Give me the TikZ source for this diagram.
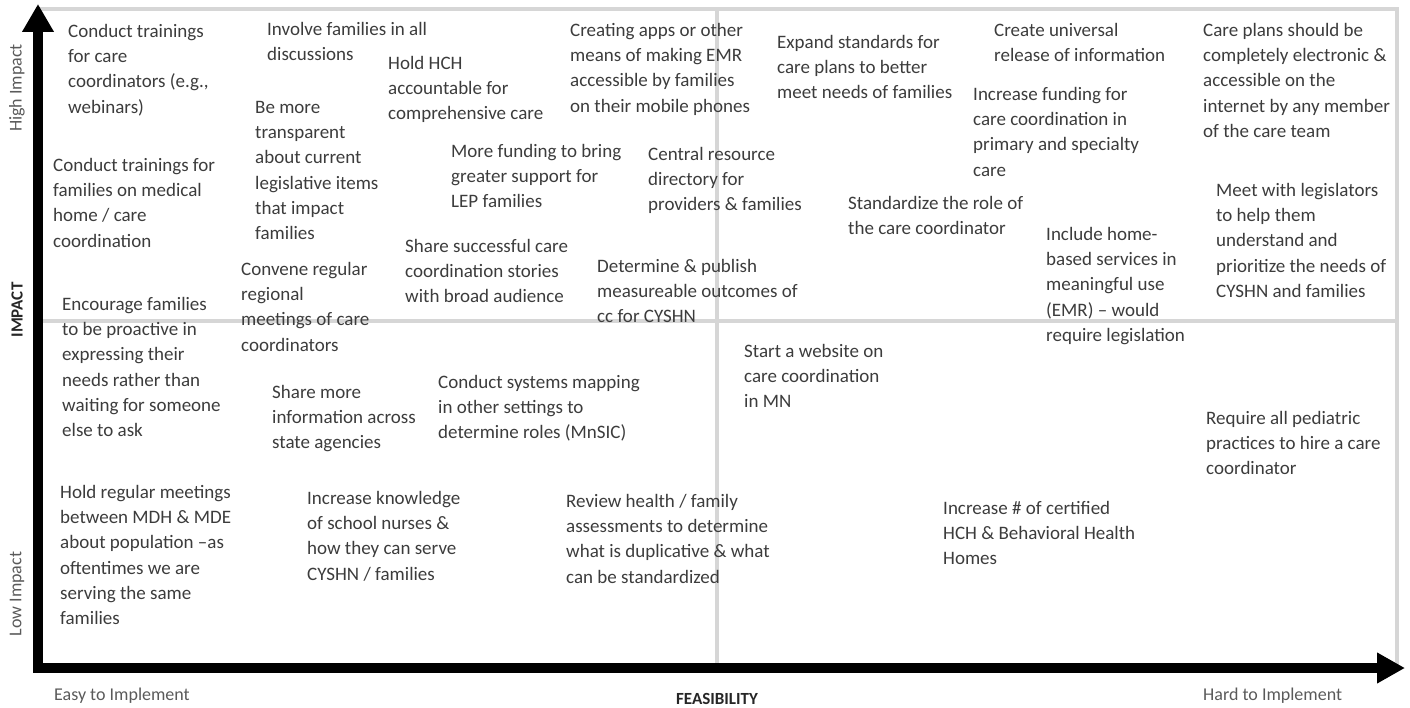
\documentclass[tikz,border=0pt]{standalone}
\usepackage{fontspec}
\setmainfont{Carlito}
\usetikzlibrary{arrows.meta}
\definecolor{txt}{HTML}{3C3C3C}
\definecolor{lbl}{HTML}{5A5A5A}
\definecolor{gridc}{HTML}{D6D6D6}
\newcommand\bodyfont{\fontsize{19}{25.3}\selectfont}
\newcommand\ft{\rule{0pt}{15pt}}
\tikzset{
  idea/.style={anchor=north west, inner sep=0pt, align=left, font=\bodyfont, text=txt},
  sidelbl/.style={rotate=90, inner sep=0pt, font=\fontsize{18}{20}\selectfont, text=lbl},
  botlbl/.style={anchor=base west, inner sep=0pt, font=\fontsize{18}{20}\selectfont, text=lbl},
  boldlbl/.style={inner sep=0pt, font=\fontsize{17}{20}\selectfont\bfseries, text=black!85},
  quad/.style={draw=gridc, line width=3.5pt},
  axis/.style={line width=10pt, line join=miter, black, {Triangle[length=28pt,width=30pt]}-{Triangle[length=28pt,width=29pt]}}
}
\begin{document}
\begin{tikzpicture}[x=1pt,y=-1pt]
\useasboundingbox (0,0) rectangle (1410,708);
% quadrant grid
\draw[quad] (40,9) rectangle (1397,668);
\draw[quad] (717,9) -- (717,668);
\draw[quad] (40,321) -- (1397,321);
% axes
\coordinate (ytip) at (38,4);
\coordinate (corner) at (38,668);
\coordinate (xtip) at (1405,668);
\draw[axis] (ytip) -- (corner) -- (xtip);
% axis labels
\node[sidelbl] (hi) at (17,88) {High Impact};
\node[boldlbl, rotate=90] (imp) at (17,310) {IMPACT};
\node[sidelbl] (lo) at (17,594) {Low Impact};
\node[botlbl] (easy) at (54,700) {Easy to Implement};
\node[boldlbl, anchor=base] (feas) at (717,704) {FEASIBILITY};
\node[botlbl] (hard) at (1203,700) {Hard to Implement};
% ideas
\node[idea] (n1) at (68,22) {\ft Conduct trainings\\for care\\coordinators (e.g.,\\webinars)};
\node[idea] (n2) at (267,20) {\ft Involve families in all\\discussions};
\node[idea] (n3) at (388,54) {\ft Hold HCH\\accountable for\\comprehensive care};
\node[idea] (n4) at (570,21) {\ft Creating apps or other\\means of making EMR\\accessible by families\\on their mobile phones};
\node[idea] (n5) at (777,33) {\ft Expand standards for\\care plans to better\\meet needs of families};
\node[idea] (n6) at (994,21) {\ft Create universal\\release of information};
\node[idea] (n7) at (1203,21) {\ft Care plans should be\\completely electronic \&\\accessible on the\\internet by any member\\of the care team};
\node[idea] (n8) at (255,98) {\ft Be more\\transparent\\about current\\legislative items\\that impact\\families};
\node[idea] (n9) at (53,156) {\ft Conduct trainings for\\families on medical\\home / care\\coordination};
\node[idea] (n10) at (451,142) {\ft More funding to bring\\greater support for\\LEP families};
\node[idea] (n11) at (648,145) {\ft Central resource\\directory for\\providers \& families};
\node[idea] (n12) at (973,85) {\ft Increase funding for\\care coordination in\\primary and specialty\\care};
\node[idea] (n13) at (848,194) {\ft Standardize the role of\\the care coordinator};
\node[idea] (n14) at (1216,181) {\ft Meet with legislators\\to help them\\understand and\\prioritize the needs of\\CYSHN and families};
\node[idea] (n15) at (1046,225) {\ft Include home-\\based services in\\meaningful use\\(EMR) – would\\require legislation};
\node[idea] (n16) at (405,237) {\ft Share successful care\\coordination stories\\with broad audience};
\node[idea] (n17) at (241,260) {\ft Convene regular\\regional\\meetings of care\\coordinators};
\node[idea] (n18) at (597,257) {\ft Determine \& publish\\measureable outcomes of\\cc for CYSHN};
\node[idea] (n19) at (62,295) {\ft Encourage families\\to be proactive in\\expressing their\\needs rather than\\waiting for someone\\else to ask};
\node[idea] (n20) at (744,342) {\ft Start a website on\\care coordination\\in MN};
\node[idea] (n21) at (272,383) {\ft Share more\\information across\\state agencies};
\node[idea] (n22) at (438,373) {\ft Conduct systems mapping\\in other settings to\\determine roles (MnSIC)};
\node[idea] (n23) at (1206,409) {\ft Require all pediatric\\practices to hire a care\\coordinator};
\node[idea] (n24) at (60,483) {\ft Hold regular meetings\\between MDH \& MDE\\about population –as\\oftentimes we are\\serving the same\\families};
\node[idea] (n25) at (307,489) {\ft Increase knowledge\\of school nurses \&\\how they can serve\\CYSHN / families};
\node[idea] (n26) at (566,492) {\ft Review health / family\\assessments to determine\\what is duplicative \& what\\can be standardized};
\node[idea] (n27) at (943,499) {\ft Increase \# of certified\\HCH \& Behavioral Health\\Homes};
\end{tikzpicture}
\end{document}
